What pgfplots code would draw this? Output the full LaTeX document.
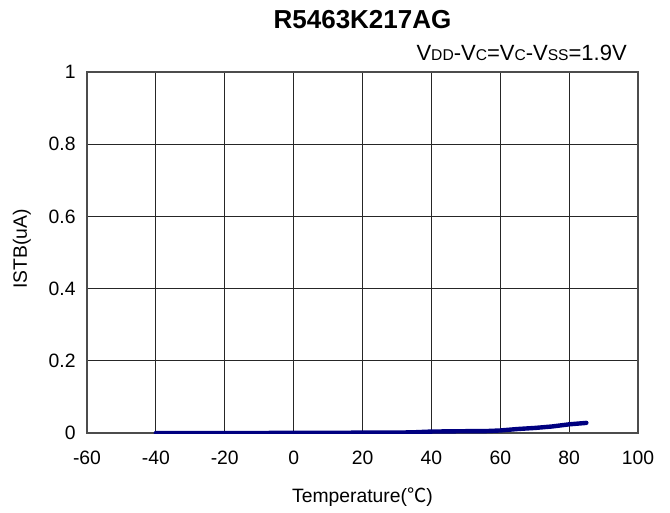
\documentclass[border=0pt]{standalone}
\usepackage{fontspec}
\setmainfont{Liberation Sans}
\newfontfamily\cjk{Noto Sans CJK SC}
\usepackage{pgfplots}
\pgfplotsset{compat=1.18}

\begin{document}
\begin{tikzpicture}
\begin{axis}[
    name=main,
    scale only axis,
    width=413.25pt,
    height=270.75pt,
    xmin=-60, xmax=100,
    ymin=0, ymax=1,
    xtick={-60,-40,...,100},
    ytick={0,0.2,0.4,0.6,0.8,1},
    yticklabels={0,0.2,0.4,0.6,0.8,1},
    /pgf/number format/assume math mode=true,
    tick label style={font=\fontsize{14.5}{16}\selectfont},
    xticklabel style={yshift=-10pt},
    yticklabel style={xshift=-5pt},
    major tick length=0pt,
    grid=major,
    grid style={black!85, line width=0.75pt},
    axis line style={black!70, line width=0.9pt},
    xlabel={Temperature({\cjk ℃})},
    ylabel={ISTB(uA)},
    label style={font=\fontsize{14.5}{16}\selectfont},
    xlabel style={at={(axis description cs:0.5,-0.1773)}, anchor=center},
    ylabel style={at={(axis description cs:-0.118,0.51)}, anchor=center},
    title={\textbf{R5463K217AG}},
    title style={at={(axis description cs:0.5,1.122)}, anchor=center, font=\fontsize{19.5}{21}\selectfont},
]
\addplot[color={rgb,255:red,0;green,0;blue,128}, line width=3.3pt, line cap=round, line join=round] coordinates {
    (-40,0) (-30,0) (-20,0) (-10,0) (0,0.0005) (10,0.0005) (20,0.001)
    (30,0.001) (35,0.002) (40,0.004) (50,0.005) (55,0.005) (60,0.007)
    (65,0.011) (70,0.014) (75,0.018) (80,0.024) (85,0.028)
};
\end{axis}
\node[anchor=east, font=\fontsize{16.5}{18}\selectfont, inner sep=0pt] at ([xshift=-8.25pt, yshift=14.6pt]main.north east)
    {V{\fontsize{11.7}{13}\selectfont DD}-V{\fontsize{11.7}{13}\selectfont C}=V{\fontsize{11.7}{13}\selectfont C}-V{\fontsize{11.7}{13}\selectfont SS}=1.9V};
\pgfresetboundingbox
\path[use as bounding box] ([shift={(-65.25pt,-60pt)}]main.south west) rectangle ([shift={(24pt,54pt)}]main.north east);
\end{tikzpicture}
\end{document}
